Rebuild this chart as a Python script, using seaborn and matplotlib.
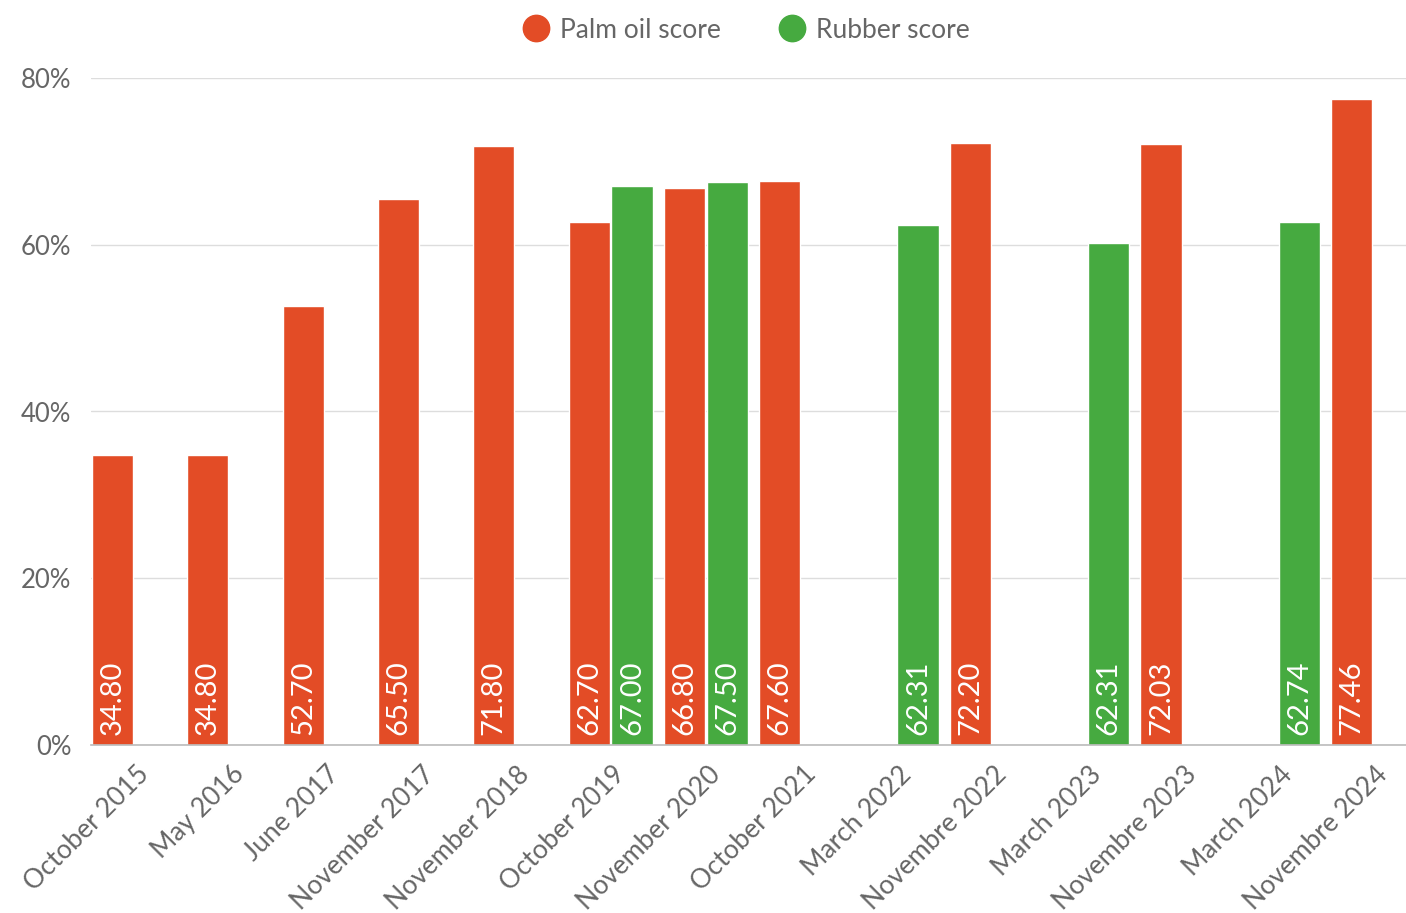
import numpy as np
import pandas as pd
import seaborn as sns
import matplotlib.pyplot as plt
from matplotlib.lines import Line2D
from matplotlib.transforms import ScaledTranslation

# données
categories = ["October 2015", "May 2016", "June 2017", "November 2017", "November 2018",
              "October 2019", "November 2020", "October 2021", "March 2022", "Novembre 2022",
              "March 2023", "Novembre 2023", "March 2024", "Novembre 2024"]
palm_values = [34.80, 34.80, 52.70, 65.50, 71.80, 62.70, 66.80, 67.60, np.nan, 72.20,
               np.nan, 72.03, np.nan, 77.46]
rubber_values = [np.nan, np.nan, np.nan, np.nan, np.nan, 67.00, 67.50, np.nan, 62.31, np.nan,
                 60.20, np.nan, 62.74, np.nan]
palm_labels = ["34.80", "34.80", "52.70", "65.50", "71.80", "62.70", "66.80", "67.60", "", "72.20",
               "", "72.03", "", "77.46"]
rubber_labels = ["", "", "", "", "", "67.00", "67.50", "", "62.31", "",
                 "62.31", "", "62.74", ""]
series = ["Palm oil score", "Rubber score"]
yticks = [0, 20, 40, 60, 80]

colors = {"Palm oil score": "#E34C26", "Rubber score": "#46AA40"}
text_grey = "#666666"

df = pd.DataFrame({"date": categories, series[0]: palm_values, series[1]: rubber_values})
long_df = df.melt(id_vars="date", var_name="serie", value_name="score")

sns.set_theme(style="white")
plt.rcParams['font.family'] = ['Lato', 'DejaVu Sans']

fig = plt.figure(figsize=(14.06, 9.13), dpi=100)
ax = fig.add_axes([91/1406, 168/913, 1315/1406, 667/913])

sns.barplot(data=long_df, x="date", y="score", hue="serie", hue_order=series,
            order=categories, palette=colors, width=0.9, gap=0.04,
            dodge=True, legend=False, ax=ax, saturation=1)

# étiquettes de valeurs en bas des barres
all_labels = {series[0]: palm_labels, series[1]: rubber_labels}
for cont, name in zip(ax.containers, series):
    for bar in cont:
        h = bar.get_height()
        if np.isnan(h) or h == 0:
            continue
        xc = bar.get_x() + bar.get_width() / 2
        idx = int(round(xc))
        ax.text(xc, 1.2, all_labels[name][idx], rotation=90, ha="center", va="bottom",
                color="white", fontsize=21)

ax.set_xlim(-0.451, 13.346)
ax.set_ylim(0, 80)
ax.set_yticks(yticks)
ax.set_yticklabels([f"{v}%" for v in yticks])
ax.set_xlabel("")
ax.set_ylabel("")
ax.grid(axis="y", color="#dddddd", linewidth=1)
ax.set_axisbelow(True)
for s in ["top", "right", "left"]:
    ax.spines[s].set_visible(False)
ax.spines["bottom"].set_color("#bbbbbb")
ax.spines["bottom"].set_linewidth(1.2)
ax.tick_params(axis="y", length=0, pad=14, labelsize=18.5, labelcolor=text_grey)
ax.tick_params(axis="x", length=0, pad=12, labelsize=19, labelcolor=text_grey)
plt.setp(ax.get_xticklabels(), rotation=45, ha="right", rotation_mode="anchor")
for lbl in ax.get_xticklabels():
    lbl.set_transform(lbl.get_transform() + ScaledTranslation(0.02, 0, fig.dpi_scale_trans))

handles = [Line2D([0], [0], marker="o", linestyle="", markersize=19,
                  markerfacecolor=colors[s], markeredgecolor=colors[s]) for s in series]
fig.legend(handles, series, loc="center", bbox_to_anchor=(0.531, 0.967), ncol=2,
           frameon=False, fontsize=19, labelcolor=text_grey, handlelength=1.0,
           handletextpad=0.4, columnspacing=2.2)

fig.savefig("out.png", dpi=100)
